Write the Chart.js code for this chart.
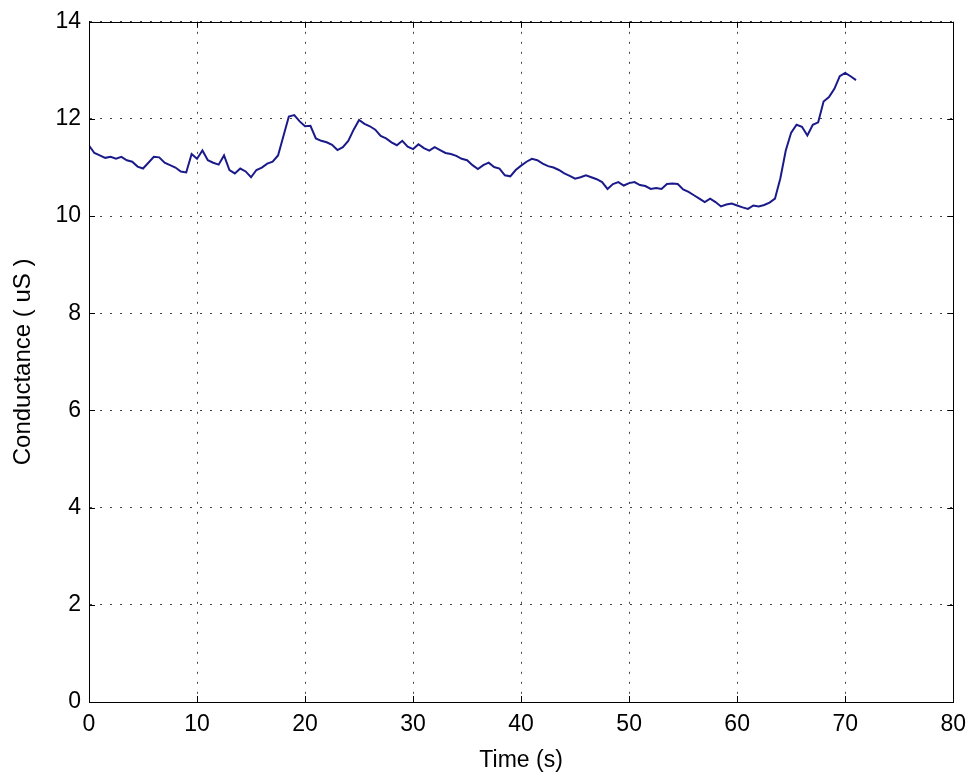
<!DOCTYPE html>
<html>
<head>
<meta charset="utf-8">
<script src="https://cdn.jsdelivr.net/npm/chart.js@4/dist/chart.umd.min.js"></script>
<style>
  html, body { margin: 0; padding: 0; background: #ffffff; }
  #wrap { width: 975px; height: 778px; }
</style>
</head>
<body>
<div id="wrap"><canvas id="c" width="975" height="778"></canvas></div>
<script>
// ---- data ----
const times = [
  0, 0.5, 1, 1.5, 2, 2.5, 3, 3.5, 4, 4.5, 5, 5.5, 6, 6.5, 7, 7.5, 8, 8.5, 9, 9.5,
  10, 10.5, 11, 11.5, 12, 12.5, 13, 13.5, 14, 14.5, 15, 15.5, 16, 16.5, 17, 17.5, 18, 18.5, 19, 19.5,
  20, 20.5, 21, 21.5, 22, 22.5, 23, 23.5, 24, 24.5, 25, 25.5, 26, 26.5, 27, 27.5, 28, 28.5, 29, 29.5,
  30, 30.5, 31, 31.5, 32, 32.5, 33, 33.5, 34, 34.5, 35, 35.5, 36, 36.5, 37, 37.5, 38, 38.5, 39, 39.5,
  40, 40.5, 41, 41.5, 42, 42.5, 43, 43.5, 44, 44.5, 45, 45.5, 46, 46.5, 47, 47.5, 48, 48.5, 49, 49.5,
  50, 50.5, 51, 51.5, 52, 52.5, 53, 53.5, 54, 54.5, 55, 55.5, 56, 56.5, 57, 57.5, 58, 58.5, 59, 59.5,
  60, 60.5, 61, 61.5, 62, 62.5, 63, 63.5, 64, 64.5, 65, 65.5, 66, 66.5, 67, 67.5, 68, 68.5, 69, 69.5,
  70, 70.5, 71
];
const conductance = [
  11.45, 11.30, 11.25, 11.20, 11.22, 11.18, 11.22, 11.15, 11.12, 11.02, 10.98, 11.10, 11.22, 11.21, 11.10, 11.05, 11.00, 10.92, 10.90, 11.28,
  11.18, 11.35, 11.15, 11.10, 11.06, 11.25, 10.95, 10.88, 10.98, 10.92, 10.80, 10.95, 11.00, 11.08, 11.12, 11.25, 11.65, 12.05, 12.08, 11.95,
  11.85, 11.86, 11.60, 11.55, 11.52, 11.47, 11.36, 11.42, 11.55, 11.78, 11.98, 11.90, 11.85, 11.78, 11.65, 11.60, 11.52, 11.46, 11.55, 11.43,
  11.38, 11.48, 11.40, 11.35, 11.42, 11.36, 11.30, 11.28, 11.24, 11.18, 11.15, 11.05, 10.97, 11.05, 11.10, 11.01, 10.98, 10.84, 10.82, 10.95,
  11.04, 11.12, 11.18, 11.15, 11.08, 11.03, 11.00, 10.95, 10.88, 10.83, 10.77, 10.80, 10.84, 10.80, 10.76, 10.70, 10.56, 10.66, 10.70, 10.63,
  10.68, 10.70, 10.64, 10.62, 10.56, 10.58, 10.56, 10.66, 10.67, 10.66, 10.55, 10.50, 10.43, 10.36, 10.29, 10.36, 10.29, 10.20, 10.24, 10.26,
  10.22, 10.18, 10.15, 10.22, 10.20, 10.23, 10.28, 10.36, 10.78, 11.35, 11.72, 11.88, 11.84, 11.66, 11.88, 11.93, 12.36, 12.45, 12.62, 12.88,
  12.95, 12.88, 12.80
];
const xTicks = [0, 10, 20, 30, 40, 50, 60, 70, 80];
const yTicks = [0, 2, 4, 6, 8, 10, 12, 14];
const xTitle = 'Time (s)';
const yTitle = 'Conductance ( uS )';

const points = times.map((t, i) => ({ x: t, y: conductance[i] }));
const FONT = 'Liberation Sans, Arial, sans-serif';

const framePlugin = {
  id: 'frame',
  afterDatasetsDraw(chart) {
    const { ctx, chartArea: a, scales } = chart;
    ctx.save();
    ctx.strokeStyle = '#000';
    ctx.lineWidth = 1;
    ctx.beginPath();
    const L = 6;
    xTicks.forEach(v => {
      const px = Math.round(scales.x.getPixelForValue(v)) + 0.5;
      ctx.moveTo(px, a.bottom); ctx.lineTo(px, a.bottom - L);
      ctx.moveTo(px, a.top); ctx.lineTo(px, a.top + L);
    });
    yTicks.forEach(v => {
      const py = Math.round(scales.y.getPixelForValue(v)) + 0.5;
      ctx.moveTo(a.left, py); ctx.lineTo(a.left + L, py);
      ctx.moveTo(a.right, py); ctx.lineTo(a.right - L, py);
    });
    ctx.stroke();
    ctx.strokeRect(Math.round(a.left) + 0.5, Math.round(a.top) + 0.5,
                   Math.round(a.right - a.left), Math.round(a.bottom - a.top));
    ctx.restore();
  }
};

new Chart(document.getElementById('c'), {
  type: 'line',
  data: {
    datasets: [{
      data: points,
      borderColor: '#1a1a8a',
      borderWidth: 2,
      pointRadius: 0,
      tension: 0,
      fill: false
    }]
  },
  options: {
    responsive: false,
    animation: false,
    layout: { padding: { top: 20, right: 17, bottom: 0, left: 0 } },
    plugins: { legend: { display: false }, tooltip: { enabled: false } },
    scales: {
      x: {
        type: 'linear',
        min: 0, max: 80,
        afterFit(s) { s.height = 76; },
        afterBuildTicks(s) { s.ticks = xTicks.map(v => ({ value: v })); },
        ticks: { font: { family: FONT, size: 23 }, color: '#000', padding: 9, maxRotation: 0 },
        grid: { color: '#444', lineWidth: 1, drawTicks: false },
        border: { display: true, color: '#000', dash: [2, 8] },
        title: { display: true, text: xTitle, font: { family: FONT, size: 23 }, color: '#000', padding: { top: 4, bottom: 4 } }
      },
      y: {
        type: 'linear',
        min: 0, max: 14,
        afterFit(s) { s.width = 89; },
        afterBuildTicks(s) { s.ticks = yTicks.map(v => ({ value: v })); },
        ticks: { font: { family: FONT, size: 23 }, color: '#000', padding: 8 },
        grid: { color: '#444', lineWidth: 1, drawTicks: false },
        border: { display: true, color: '#000', dash: [2, 8] },
        title: { display: true, text: yTitle, font: { family: FONT, size: 24 }, color: '#000', padding: { top: 9, bottom: 4 } }
      }
    }
  },
  plugins: [framePlugin]
});
</script>
</body>
</html>
